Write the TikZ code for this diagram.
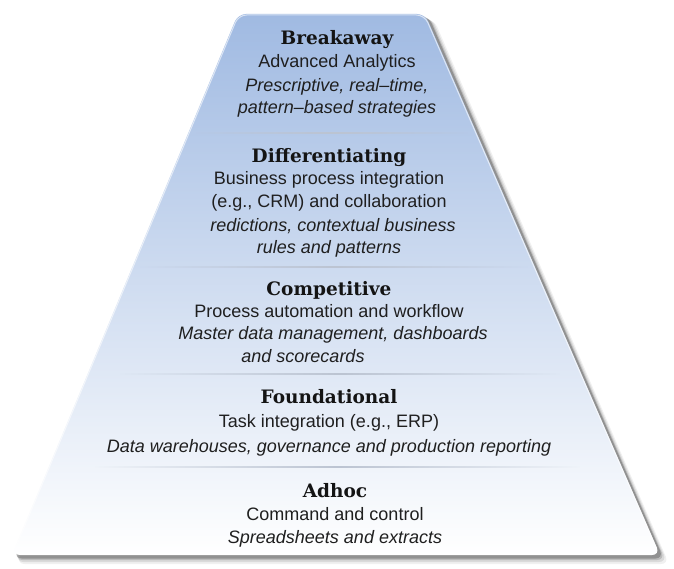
\documentclass[tikz,border=0pt]{standalone}
\usepackage{fontspec}
\setmainfont{Liberation Sans}
\newfontfamily\slabfont{DejaVu Serif}
\usetikzlibrary{fadings}
\definecolor{tiertop}{RGB}{160,186,226}
\definecolor{tiermid}{RGB}{206,218,240}
\definecolor{tierline}{RGB}{188,196,210}
\tikzset{
  title/.style={anchor=base, inner sep=0pt, font=\slabfont\bfseries\fontsize{18.5}{20}\selectfont, text=black!92},
  body/.style={anchor=base, inner sep=0pt, font=\fontsize{18}{21}\selectfont, text=black!88},
  note/.style={body, font=\itshape\fontsize{18}{21}\selectfont},
  divider/.style={draw=tierline, line width=1.6pt, path fading=divfade},
}
\tikzfading[name=divfade, left color=transparent!100, right color=transparent!100, middle color=transparent!0]
\begin{document}
\begin{tikzpicture}[x=1pt, y=-1pt]
\useasboundingbox (0,0) rectangle (674,569);
\fill[white] (0,0) rectangle (674,569);
% soft shadow under the pyramid
\foreach \o/\a in {9/0.06, 7/0.09, 5/0.14, 3.5/0.22} {
  \fill[black, opacity=\a, rounded corners=8pt]
    (238+\o,14+\o*0.6) -- (425+\o,14+\o*0.6) -- (660+\o,555+\o) -- (12+\o*0.5,555+\o) -- cycle;
}
% the pyramid body
\shade[top color=tiertop, middle color=tiermid, bottom color=white, rounded corners=8pt]
  (238,14) -- (425,14) -- (660,555) -- (12,555) -- cycle;
\draw[white, opacity=0.6, line width=1pt, rounded corners=8pt]
  (238.5,15) -- (424.5,15) -- (659,554) -- (13,554) -- cycle;
% tier dividers
\coordinate (d1a) at (196,133); \coordinate (d1b) at (468,133);
\coordinate (d2a) at (140,267); \coordinate (d2b) at (528,267);
\coordinate (d3a) at (120,374); \coordinate (d3b) at (560,374);
\coordinate (d4a) at (95,467);  \coordinate (d4b) at (580,467);
\draw[divider] (d1a) -- (d1b);
\draw[divider] (d2a) -- (d2b);
\draw[divider] (d3a) -- (d3b);
\draw[divider] (d4a) -- (d4b);
% tier texts
\node[title] (t1) at (337,45) {Breakaway};
\node[body]  (t1a) at (337,68) {Advanced Analytics};
\node[note]  (t1b) at (337,92) {Prescriptive, real–time,};
\node[note]  (t1c) at (337,114) {pattern–based strategies};
\node[title] (t2) at (329,163) {Differentiating};
\node[body]  (t2a) at (329,185) {Business process integration};
\node[body]  (t2b) at (329,208) {(e.g., CRM) and collaboration};
\node[note]  (t2c) at (333,232) {redictions, contextual business};
\node[note]  (t2d) at (329,254) {rules and patterns};
\node[title] (t3) at (329,295) {Competitive};
\node[body]  (t3a) at (329,317) {Process automation and workflow};
\node[note]  (t3b) at (333,339) {Master data management, dashboards};
\node[note]  (t3c) at (303,362) {and scorecards};
\node[title] (t4) at (329,403) {Foundational};
\node[body]  (t4a) at (329,427) {Task integration (e.g., ERP)};
\node[note]  (t4b) at (329,452) {Data warehouses, governance and production reporting};
\node[title] (t5) at (335,497) {Adhoc};
\node[body]  (t5a) at (335,520) {Command and control};
\node[note]  (t5b) at (335,543) {Spreadsheets and extracts};
\end{tikzpicture}
\end{document}
